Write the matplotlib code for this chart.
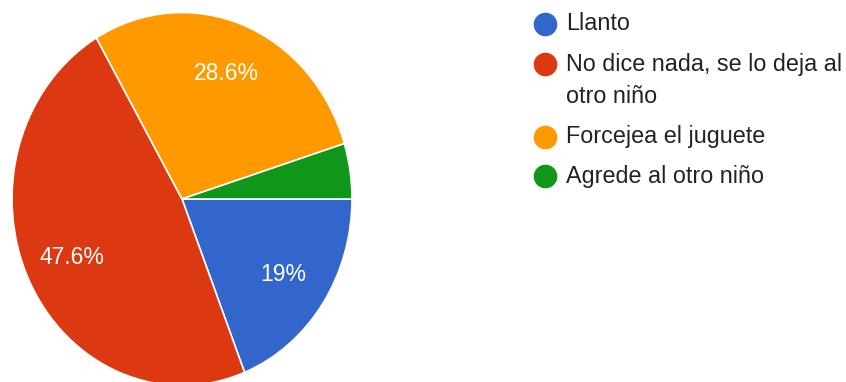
import matplotlib
matplotlib.use("Agg")
from matplotlib import pyplot as plt
from matplotlib.lines import Line2D

plt.rcParams['font.family'] = ['Liberation Sans', 'DejaVu Sans']

# answer shares, in percent
categories = ["Llanto", "No dice nada, se lo deja al\notro niño",
              "Forcejea el juguete", "Agrede al otro niño"]
shares = [19.0, 47.6, 28.6, 4.8]
colors = ["#3366cc", "#dc3912", "#ff9900", "#109618"]

W, H = 846, 382
fig = plt.figure(figsize=(W / 100, H / 100), dpi=100)

# pie is drawn a bit taller than wide
cx, cy, rx, ry = 182, 199, 170, 186.5
ax = fig.add_axes([(cx - rx) / W, (H - cy - ry) / H, 2 * rx / W, 2 * ry / H])


def fmt_pct(p):
    if p < 5:
        return ""
    s = f"{p:.1f}"
    if s.endswith(".0"):
        s = s[:-2]
    return s + "%"


wedges, _, autotexts = ax.pie(shares, colors=colors, startangle=0, counterclock=False,
                              autopct=fmt_pct, pctdistance=0.72,
                              wedgeprops=dict(edgecolor="white", linewidth=1.2),
                              textprops=dict(color="white", fontsize=16.5))
ax.set_aspect("auto")
ax.set_xlim(-1, 1)
ax.set_ylim(-1, 1)
ax.axis("off")
for w in wedges:
    w.set_clip_on(False)

# legend, drawn by hand so the dot sits on the first text line
row_y = [24, 64, 137, 176]
for lab, col, y in zip(categories, colors, row_y):
    fy = 1 - y / H
    fig.add_artist(Line2D([545 / W], [fy], marker="o", markersize=17,
                          color=col, markeredgewidth=0, transform=fig.transFigure))
    fig.text(566 / W, fy + 11.5 / H, lab, fontsize=16.8, color="#222222",
             va="top", ha="left", linespacing=1.55)

fig.savefig("out.png", dpi=100)
